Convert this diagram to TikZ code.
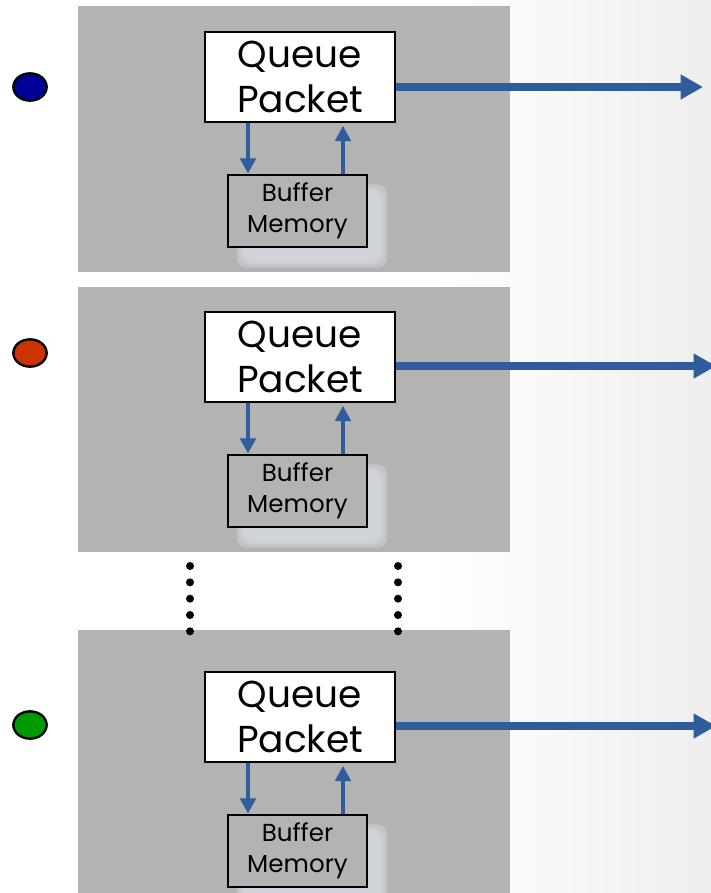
\documentclass[tikz,border=0pt]{standalone}
\usepackage{fontspec}
\setmainfont{Poppins}
\usepackage{tikz}
\usetikzlibrary{arrows.meta,shapes.geometric}
\definecolor{panel}{HTML}{B3B3B3}
\definecolor{flowc}{HTML}{2F5C9A}
\definecolor{shade}{HTML}{DADEE5}
\definecolor{bgr}{HTML}{EEEEEE}
\definecolor{navyc}{HTML}{000099}
\definecolor{redc}{HTML}{CC3300}
\definecolor{greenc}{HTML}{009900}
\tikzset{
  card/.style={fill=panel, draw=none, minimum width=12.96cm, minimum height=7.98cm, inner sep=0pt},
  qbox/.style={draw=black, fill=white, line width=2.5pt, minimum width=5.7cm, minimum height=2.7cm, inner sep=0pt, align=center, font=\fontsize{32}{38}\selectfont},
  bbox/.style={draw=black, fill=panel, line width=2.2pt, minimum width=4.17cm, minimum height=2.16cm, inner sep=0pt, align=center, font=\fontsize{21}{26.5}\selectfont},
  ghost/.style={fill=shade, fill opacity=0.4, rounded corners=8pt, minimum width=4.3cm, minimum height=2.3cm, inner sep=0pt},
  flag/.style={ellipse, draw=black, line width=2pt, minimum width=1.0cm, minimum height=0.82cm, inner sep=0pt},
  flow/.style={-{Triangle[length=19pt, width=20pt]}, draw=flowc, line width=6pt},
  vflow/.style={-{Triangle[length=13pt, width=13pt]}, draw=flowc, line width=3.6pt},
  vdots/.style={line width=0.24cm, line cap=round, dash pattern=on 0pt off 0.49cm},
}
\begin{document}
\begin{tikzpicture}[x=0.03cm, y=-0.03cm]
    \clip (0,0) rectangle (711,893);
    \fill[white] (0,0) rectangle (711,893);
    \fill[left color=white, right color=bgr] (430,0) rectangle (711,893);
    % panels
    \node[card] (p1) at (294, 139) {};
    \node[card, minimum height=7.95cm] (p2) at (294, 419.5) {};
    \node[card] (p3) at (294, 763) {};
    % panel 1
    \node[flag, fill=navyc] (c1) at (30, 87) {};
    \node[ghost, minimum width=4.5cm, minimum height=2.5cm] (g1a) at (312, 226) {};
    \node[ghost] (g1) at (312, 226) {};
    \node[ghost, minimum width=4.1cm, minimum height=2.1cm] (g1b) at (312, 226) {};
    \node[qbox] (q1) at (300, 77) {Queue\\Packet};
    \node[bbox] (b1) at (297.5, 211) {Buffer\\Memory};
    \coordinate (o1) at (703, 87);
    \draw[flow] (q1.east |- o1) -- (o1);
    \draw[vflow] ([xshift=-1.56cm]q1.south) -- ([xshift=-1.56cm]q1.south |- b1.north);
    \draw[vflow] ([xshift=1.29cm]q1.south |- b1.north) -- ([xshift=1.29cm, yshift=-2pt]q1.south);
    % panel 2
    \node[flag, fill=redc] (c2) at (30, 353) {};
    \node[ghost, minimum width=4.5cm, minimum height=2.5cm] (g2a) at (312, 506) {};
    \node[ghost] (g2) at (312, 506) {};
    \node[ghost, minimum width=4.1cm, minimum height=2.1cm] (g2b) at (312, 506) {};
    \node[qbox] (q2) at (300, 357) {Queue\\Packet};
    \node[bbox] (b2) at (297.5, 491) {Buffer\\Memory};
    \coordinate (o2) at (716, 366);
    \draw[flow] (q2.east |- o2) -- (o2);
    \draw[vflow] ([xshift=-1.56cm]q2.south) -- ([xshift=-1.56cm]q2.south |- b2.north);
    \draw[vflow] ([xshift=1.29cm]q2.south |- b2.north) -- ([xshift=1.29cm, yshift=-2pt]q2.south);
    % gap
    \draw[vdots] (190, 566) -- (190, 633);
    \draw[vdots] (398, 566) -- (398, 633);
    % panel 3
    \node[flag, fill=greenc] (c3) at (30, 725) {};
    \node[ghost, minimum width=4.5cm, minimum height=2.5cm] (g3a) at (312, 866) {};
    \node[ghost] (g3) at (312, 866) {};
    \node[ghost, minimum width=4.1cm, minimum height=2.1cm] (g3b) at (312, 866) {};
    \node[qbox] (q3) at (300, 717) {Queue\\Packet};
    \node[bbox] (b3) at (297.5, 851) {Buffer\\Memory};
    \coordinate (o3) at (716, 726);
    \draw[flow] (q3.east |- o3) -- (o3);
    \draw[vflow] ([xshift=-1.56cm]q3.south) -- ([xshift=-1.56cm]q3.south |- b3.north);
    \draw[vflow] ([xshift=1.29cm]q3.south |- b3.north) -- ([xshift=1.29cm, yshift=-2pt]q3.south);
\end{tikzpicture}
\end{document}
